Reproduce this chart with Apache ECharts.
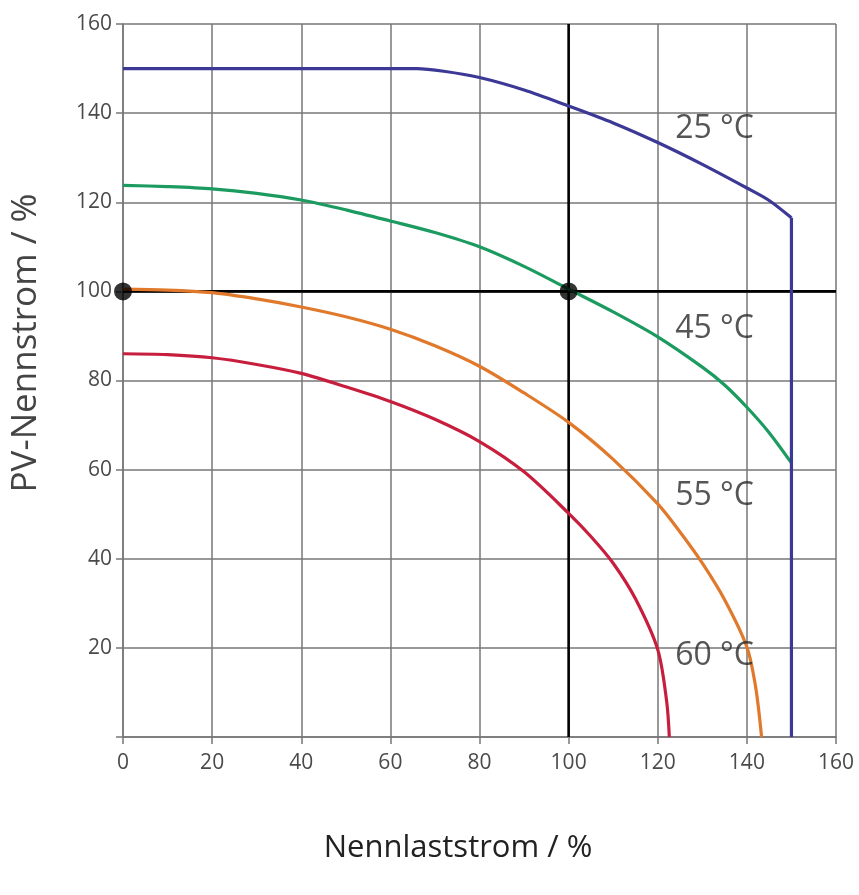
<!DOCTYPE html>
<html>
<head>
<meta charset="utf-8">
<script src="https://cdn.jsdelivr.net/npm/echarts@6/dist/echarts.min.js"></script>
<style>html,body{margin:0;padding:0;background:#fff}#c{width:859px;height:895px}</style>
</head>
<body>
<div id="c"></div>
<script>
// Data
const xTicks = [0, 20, 40, 60, 80, 100, 120, 140, 160];
const yTicks = [20, 40, 60, 80, 100, 120, 140, 160];
const curveNames = ['25 °C', '45 °C', '55 °C', '60 °C'];
const curve25 = [[0,150],[50,150],[60,150],[66,150],[72,149.4],[80,148],[90,145.2],[100,141.6],[110,137.8],[120,133.4],[130,128.5],[140,123.2],[145,120.4],[150,116.5]];
const curve25Drop = [[150,116.5],[150,0]];
const curve45 = [[0,123.8],[10,123.5],[20,123],[30,122],[40,120.5],[50,118.3],[60,115.8],[70,113.2],[80,110],[90,105.6],[100,100.5],[110,95.4],[120,89.8],[130,83],[135,79],[140,74],[145,68.3],[150,61.5]];
const curve55 = [[0,100.5],[10,100.3],[20,99.7],[30,98.3],[40,96.5],[50,94.3],[60,91.5],[70,87.8],[80,83.2],[90,77.2],[100,70.6],[110,62.3],[120,52.3],[125,46],[130,39],[135,30.8],[140,20.2],[142,11],[143.3,0]];
const curve60 = [[0,86],[10,85.8],[20,85.1],[30,83.6],[40,81.6],[50,78.6],[60,75.3],[70,71.3],[80,66.3],[90,59.5],[100,50.2],[105,45],[110,39],[115,31],[120,19.6],[122,8],[122.6,0]];
const refV = [[100,0],[100,160]];
const refH = [[0,100],[160,100]];
const refPoints = [[0,100],[100,100]];
const labelPos = [[123.9,136.4],[123.9,91.5],[123.9,54],[123.9,18.2]];
const colors = ['#3c3896', '#1c9b60', '#e0792b', '#c81e3e'];

const chart = echarts.init(document.getElementById('c'));
const gridColor = '#777';
const curveSeries = [curve25, curve45, curve55, curve60].map((d, i) => ({
  type: 'line', data: d, showSymbol: false, smooth: 0.3, clip: false,
  lineStyle: {color: colors[i], width: 3.2}, z: 3, silent: true
}));
chart.setOption({
  animation: false,
  backgroundColor: '#fff',
  grid: {left: 123, right: 23, top: 24, bottom: 158},
  xAxis: {
    type: 'value', min: 0, max: 160, interval: 20,
    axisLine: {show: true, lineStyle: {color: gridColor, width: 1.5}},
    axisTick: {show: true, length: 7, lineStyle: {color: gridColor, width: 1.5}},
    axisLabel: {color: '#4a4a4a', fontSize: 21, fontFamily: 'Open Sans', margin: 16},
    splitLine: {show: true, lineStyle: {color: gridColor, width: 1.5}}
  },
  yAxis: {
    type: 'value', min: 0, max: 160, interval: 20,
    axisLine: {show: true, lineStyle: {color: gridColor, width: 1.5}},
    axisTick: {show: true, length: 7, lineStyle: {color: gridColor, width: 1.5}},
    axisLabel: {color: '#4a4a4a', fontSize: 21, fontFamily: 'Open Sans', margin: 11,
      formatter: v => (yTicks.indexOf(v) >= 0 ? String(v) : '')},
    splitLine: {show: true, lineStyle: {color: gridColor, width: 1.5}}
  },
  graphic: [
    {type: 'text', x: 26, y: 343, rotation: Math.PI / 2,
     style: {text: 'PV-Nennstrom / %', font: '35px "Open Sans"', fill: '#444', textAlign: 'center', textVerticalAlign: 'middle'}},
    {type: 'text', x: 458, y: 848,
     style: {text: 'Nennlaststrom / %', font: '31px "Open Sans"', fill: '#222', textAlign: 'center', textVerticalAlign: 'middle'}}
  ],
  series: [
    {type: 'line', data: refV, showSymbol: false, lineStyle: {color: '#000', width: 2.6}, z: 2, silent: true},
    {type: 'line', data: refH, showSymbol: false, lineStyle: {color: '#000', width: 2.6}, z: 2, silent: true},
    ...curveSeries,
    {type: 'line', data: curve25Drop, showSymbol: false, clip: false,
     lineStyle: {color: colors[0], width: 3.2}, z: 3, silent: true},
    {type: 'scatter', data: refPoints, symbolSize: 18, itemStyle: {color: '#000'}, z: 5, clip: false, silent: true},
    {type: 'scatter', data: labelPos.map((p, i) => ({value: p, name: curveNames[i]})), symbolSize: 0, z: 6, silent: true,
     label: {show: true, position: 'right', distance: 0, formatter: p => p.name,
       color: '#2a2a2a', fontSize: 32, fontFamily: 'Open Sans'}}
  ]
});
</script>
</body>
</html>
